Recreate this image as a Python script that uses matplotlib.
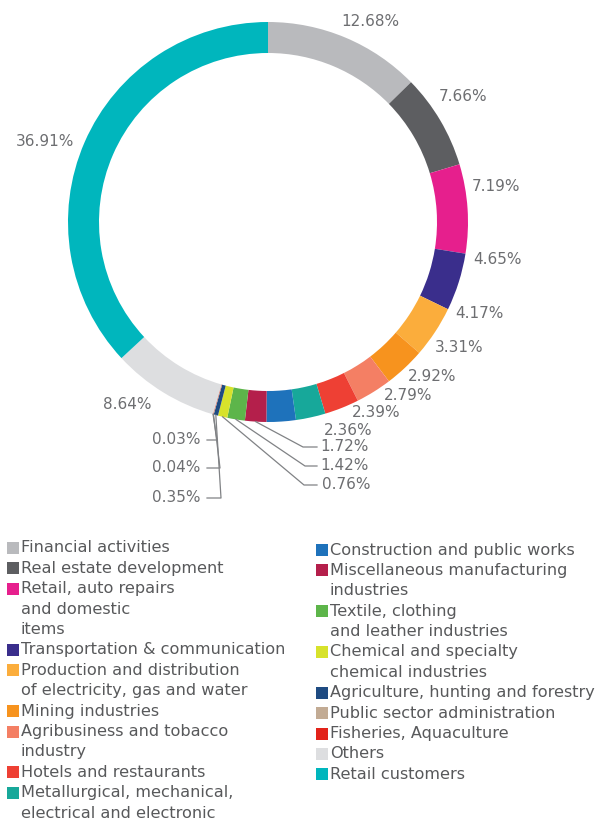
import matplotlib.pyplot as plt
import numpy as np
from matplotlib.patches import Rectangle

# Sector shares (%), clockwise from 12 o'clock
sectors = [
    "Financial activities",
    "Real estate development",
    "Retail, auto repairs\nand domestic\nitems",
    "Transportation & communication",
    "Production and distribution\nof electricity, gas and water",
    "Mining industries",
    "Agribusiness and tobacco\nindustry",
    "Hotels and restaurants",
    "Metallurgical, mechanical,\nelectrical and electronic\nindustries",
    "Construction and public works",
    "Miscellaneous manufacturing\nindustries",
    "Textile, clothing\nand leather industries",
    "Chemical and specialty\nchemical industries",
    "Agriculture, hunting and forestry",
    "Public sector administration",
    "Fisheries, Aquaculture",
    "Others",
    "Retail customers",
]
shares = [12.68, 7.66, 7.19, 4.65, 4.17, 3.31, 2.92, 2.79, 2.39, 2.36,
          1.72, 1.42, 0.76, 0.35, 0.04, 0.03, 8.64, 36.91]
colors = ["#b9babd", "#5d5e61", "#e61f8d", "#3a2e8c", "#fbad3c", "#f7931e",
          "#f47f64", "#ee4034", "#17a89a", "#1e72bb", "#b41f4b", "#5db54a",
          "#d7e22b", "#1f4b82", "#c2ab94", "#e2231a", "#dddee0", "#00b6bd"]

W, H = 603, 819
CX, CY, R = 268, 222, 200   # donut centre / radius in pixels

plt.rcParams['font.family'] = ['DejaVu Sans']
fig = plt.figure(figsize=(W / 100, H / 100), dpi=100)
ax = fig.add_axes([(CX - R) / W, 1 - (CY + R) / H, 2 * R / W, 2 * R / H])

wedges, _ = ax.pie(shares, colors=colors, startangle=90, counterclock=False,
                   radius=1, wedgeprops=dict(width=0.155, linewidth=0))
ax.set_xlim(-1, 1)
ax.set_ylim(-1, 1)
ax.set_aspect('equal')
ax.axis('off')


def px(x, y):
    # pixel position (top-left origin) -> pie data coords
    return (x - CX) / R, (CY - y) / R


# label positions (pixels) and leader-line elbows
label_pos = [(370, 22), (463, 97), (496, 187), (497, 260), (479, 314),
             (459, 348), (432, 377), (408, 396), (376, 413), (348, 431),
             (344, 447), (345, 466), (346, 485), (176, 498), (176, 468),
             (176, 440), (127, 405), (45, 142)]
leaders = {10: [(303, 447), (317, 447)], 11: [(305, 466), (317, 466)],
           12: [(304, 485), (317, 485)], 13: [(221, 498), (207, 498)],
           14: [(220, 468), (207, 468)], 15: [(217, 440), (207, 440)]}

txt_col = "#6d6e71"
for i, (w, v) in enumerate(zip(wedges, shares)):
    x, y = px(*label_pos[i])
    ax.text(x, y, f"{v:.2f}%", ha='center', va='center', fontsize=11,
            color=txt_col, clip_on=False)
    if i in leaders:
        mid = np.deg2rad((w.theta1 + w.theta2) / 2)
        pts = [(np.cos(mid), np.sin(mid))] + [px(*p) for p in leaders[i]]
        xs, ys = zip(*pts)
        ax.plot(xs, ys, color="#808285", lw=0.9, clip_on=False)

# legend, two columns drawn by hand
leg_col = "#58595b"
line_h = 20.4
columns = [(range(0, 9), 7, 548), (range(9, 18), 316, 550)]
for idx, x0, y0 in columns:
    y = y0
    for i in idx:
        fig.patches.append(Rectangle((x0 / W, 1 - (y + 6) / H), 12 / W, 12 / H,
                                     transform=fig.transFigure,
                                     facecolor=colors[i], edgecolor='none'))
        for line in sectors[i].split("\n"):
            fig.text((x0 + 14) / W, 1 - y / H, line, ha='left', va='center',
                     fontsize=11.6, color=leg_col)
            y += line_h

fig.savefig("out.png", dpi=100)
